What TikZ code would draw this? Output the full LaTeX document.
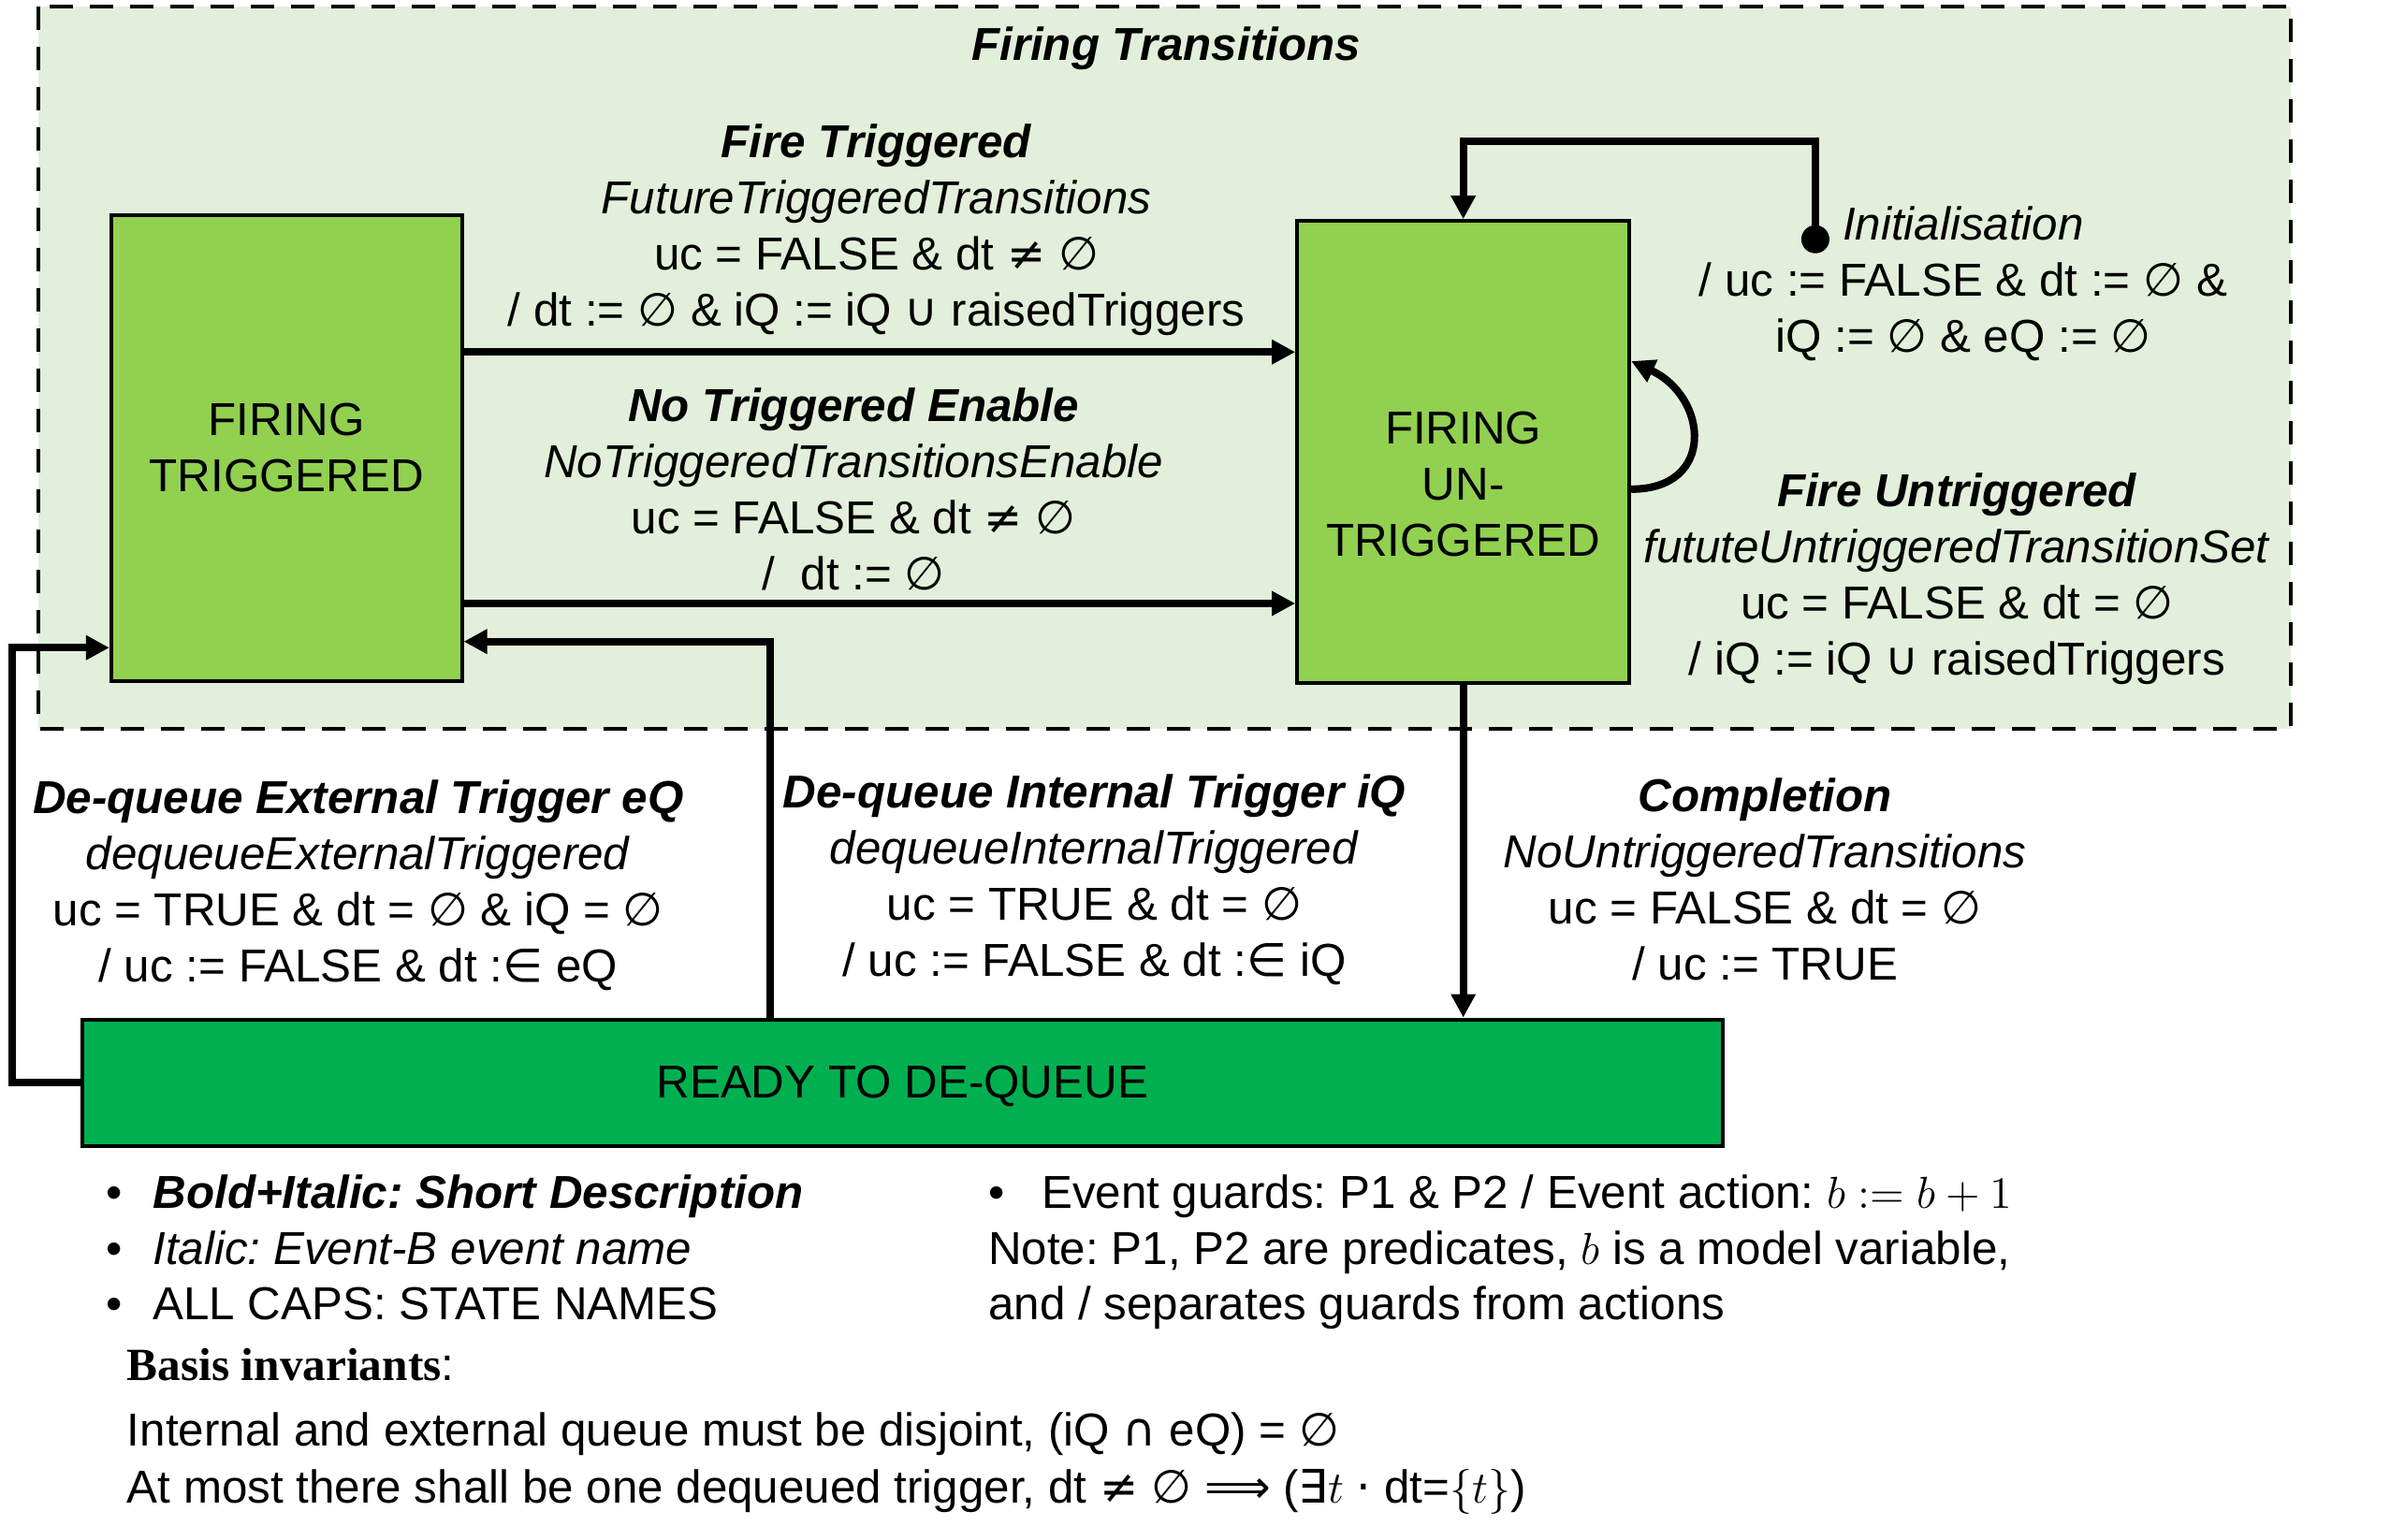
\documentclass[tikz,border=0pt]{standalone}
\usepackage{fontspec}
\setmainfont{Liberation Sans}
\newfontfamily\symfont{DejaVu Sans}
\newfontfamily\headfont{Liberation Serif}
\usetikzlibrary{arrows.meta}
\definecolor{zonebg}{RGB}{226,239,218}
\definecolor{stategrn}{RGB}{146,208,80}
\definecolor{readygrn}{RGB}{0,176,80}
\newcommand{\sy}[1]{{\symfont #1}}
\newcommand{\bfit}[1]{\textbf{\textit{#1}}}
\frenchspacing

\begin{document}
\begin{tikzpicture}[x=0.4886pt, y=-0.4886pt,
    every node/.style={font=\fontsize{14.8}{18}\selectfont, inner sep=0pt},
    state/.style={draw=black, line width=1.2pt, fill=stategrn, align=center},
    lbl/.style={align=center},
    arr/.style={line width=2.4pt, -{Triangle[length=7.5pt,width=7.5pt]}}]
  \useasboundingbox (0,0) rectangle (1568,1010);
  % firing region
  \draw[line width=1.2pt, dash pattern=on 7.5pt off 5.4pt, fill=zonebg] (25,4) rectangle (1503,478);
  \node[font=\fontsize{14.8}{18}\selectfont\bfseries\itshape] (title) at (765,32) {Firing Transitions};

  \node[state, minimum width=112.4pt, minimum height=149.5pt] (ft) at (188,294) {FIRING\\TRIGGERED};
  \node[state, minimum width=106.5pt, minimum height=148pt] (fu) at (960,296.5) {};
  \node[lbl] (futxt) at (960,318) {FIRING\\UN-\\TRIGGERED};
  \node[draw=black, line width=1.2pt, fill=readygrn, minimum width=525.7pt, minimum height=40.6pt] (rd) at (592,710.5) {};
  \node (rdtxt) at (592,713) {READY TO DE-QUEUE};

  % transitions
  \draw[arr] (ft.east |- 0,231) -- (fu.west |- 0,231);
  \draw[arr] (ft.east |- 0,396) -- (fu.west |- 0,396);
  \draw[arr] (rd.north -| 505,0) |- (ft.east |- 0,421);
  \draw[arr] (rd.west) -| (8,425) -- (ft.west |- 0,425);
  \draw[arr] (fu.south) -- (rd.north -| fu.south);
  \draw[arr] (fu.east |- 0,321) to[out=0, in=-25, looseness=1.7] (fu.east |- 0,237);
  \coordinate (init) at (1191,157);
  \fill (init) circle (4.5pt);
  \draw[arr] (init) -- (init |- 0,93) -| (fu.north);

  % labels
  \node[lbl] (lft) at (575,151) {\bfit{Fire Triggered}\\\textit{FutureTriggeredTransitions}\\uc = FALSE \& dt \sy{≠} \sy{∅}\\/ dt := \sy{∅} \& iQ := iQ \sy{∪} raisedTriggers};
  \node[lbl] (lnte) at (560,321) {\bfit{No Triggered Enable}\\\textit{NoTriggeredTransitionsEnable}\\uc = FALSE \& dt \sy{≠} \sy{∅}\\/\ \ dt := \sy{∅}};
  \node[lbl] (linit) at (1288,186) {\textit{Initialisation}\\/ uc := FALSE \& dt := \sy{∅} \&\\iQ := \sy{∅} \& eQ := \sy{∅}};
  \node[lbl] (lfu) at (1284,380) {\bfit{Fire Untriggered}\\\textit{fututeUntriggeredTransitionSet}\\uc = FALSE \& dt = \sy{∅}\\/ iQ := iQ \sy{∪} raisedTriggers};
  \node[lbl] (lext) at (235,581) {\bfit{De-queue External Trigger eQ}\\\textit{dequeueExternalTriggered}\\uc = TRUE \& dt = \sy{∅} \& iQ = \sy{∅}\\/ uc := FALSE \& dt :\sy{∈} eQ};
  \node[lbl] (lint) at (718,577) {\bfit{De-queue Internal Trigger iQ}\\\textit{dequeueInternalTriggered}\\uc = TRUE \& dt = \sy{∅}\\/ uc := FALSE \& dt :\sy{∈} iQ};
  \node[lbl] (lcomp) at (1158,577) {\bfit{Completion}\\\textit{NoUntriggeredTransitions}\\uc = FALSE \& dt = \sy{∅}\\/ uc := TRUE};

  % legend
  \node[anchor=base] (d1) at (75,793) {•};
  \node[anchor=base] (d2) at (75,830) {•};
  \node[anchor=base] (d3) at (75,866) {•};
  \node[anchor=base west] (k1) at (100,793) {\bfit{Bold+Italic: Short Description}};
  \node[anchor=base west] (k2) at (100,830) {\textit{Italic: Event-B event name}};
  \node[anchor=base west] (k3) at (100,866) {ALL CAPS: STATE NAMES};
  \node[anchor=base] (d4) at (654,793) {•};
  \node[anchor=base west] (k4) at (683,793) {Event guards: P1 \& P2 / Event action: $b := b + 1$};
  \node[anchor=base west] (k5) at (648,830) {Note: P1, P2 are predicates, $b$ is a model variable,};
  \node[anchor=base west] (k6) at (648,866) {and / separates guards from actions};
  \node[anchor=base west] (inv) at (83,906) {{\headfont\bfseries Basis invariants}:};
  \node[anchor=base west] (inv1) at (83,949) {Internal and external queue must be disjoint, (iQ \sy{∩} eQ) = \sy{∅}};
  \node[anchor=base west] (inv2) at (83,986) {At most there shall be one dequeued trigger, dt \sy{≠} \sy{∅} \sy{⟹} (\sy{∃}$t$ \sy{·} dt=$\{t\}$)};
\end{tikzpicture}
\end{document}
